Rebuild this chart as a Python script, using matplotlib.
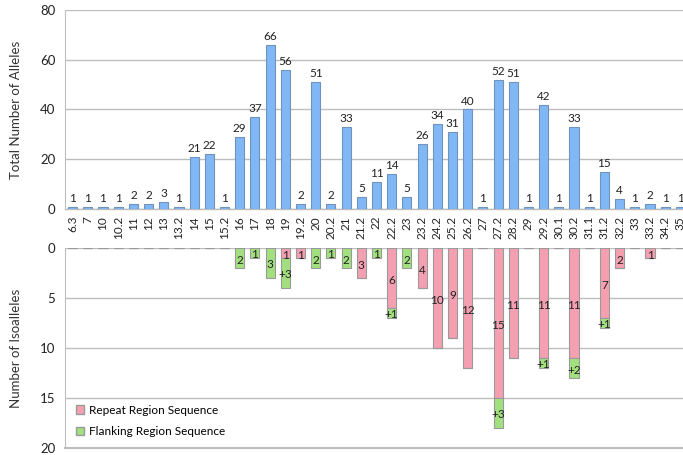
import matplotlib
matplotlib.use("Agg")
import matplotlib.pyplot as plt
from matplotlib.patches import Patch
import numpy as np

plt.rcParams['font.family'] = ['Lato', 'DejaVu Sans']

alleles = ["6.3", "7", "10", "10.2", "11", "12", "13", "13.2", "14", "15", "15.2",
           "16", "17", "18", "19", "19.2", "20", "20.2", "21", "21.2", "22", "22.2",
           "23", "23.2", "24.2", "25.2", "26.2", "27", "27.2", "28.2", "29", "29.2",
           "30.1", "30.2", "31.1", "31.2", "32.2", "33", "33.2", "34.2", "35"]
totals = [1, 1, 1, 1, 2, 2, 3, 1, 21, 22, 1,
          29, 37, 66, 56, 2, 51, 2, 33, 5, 11, 14,
          5, 26, 34, 31, 40, 1, 52, 51, 1, 42,
          1, 33, 1, 15, 4, 1, 2, 1, 1]
repeat_iso = [0, 0, 0, 0, 0, 0, 0, 0, 0, 0, 0,
              0, 0, 0, 1, 1, 0, 0, 0, 3, 0, 6,
              0, 4, 10, 9, 12, 0, 15, 11, 0, 11,
              0, 11, 0, 7, 2, 0, 1, 0, 0]
flank_iso = [0, 0, 0, 0, 0, 0, 0, 0, 0, 0, 0,
             2, 1, 3, 3, 0, 2, 1, 2, 0, 1, 1,
             2, 0, 0, 0, 0, 0, 3, 0, 0, 1,
             0, 2, 0, 1, 0, 0, 0, 0, 0]

blue = "#80b8f6"
blue_edge = "#6f93bd"
pink = "#f4a0b1"
green = "#a2e07f"
iso_edge = "#9a9a9a"
grid_c = "#bdbdbd"
text_c = "#222222"

x = np.arange(len(alleles))
w = 0.6

fig = plt.figure(figsize=(6.83, 4.55), dpi=100)
W, H = 683, 455
left, right = 65, 688
ax1 = fig.add_axes([left / W, 1 - 209 / H, (right - left) / W, (209 - 10) / H])
ax2 = fig.add_axes([left / W, 1 - 448 / H, (right - left) / W, (448 - 248) / H])

# Upper panel: total alleles per length
ax1.bar(x, totals, width=w, color=blue, edgecolor=blue_edge, linewidth=0.8, zorder=3)
for xi, v in zip(x, totals):
    ax1.text(xi, v + 1.2, str(v), ha="center", va="bottom", fontsize=8.5, color=text_c)
ax1.set_ylim(0, 80)
ax1.set_yticks([0, 20, 40, 60, 80])
ax1.set_xlim(-0.5, len(alleles) - 0.5)
ax1.set_xticks(x)
ax1.set_xticklabels(alleles, rotation=90, fontsize=8.5, color=text_c)
ax1.tick_params(axis="x", length=0, pad=5)
ax1.tick_params(axis="y", length=0, pad=7, labelsize=9.5, labelcolor=text_c)
ax1.yaxis.grid(True, color=grid_c, linewidth=1, zorder=0)
for s in ["top", "right"]:
    ax1.spines[s].set_visible(False)
ax1.spines["left"].set_color(grid_c)
ax1.spines["bottom"].set_color(grid_c)
ax1.spines["bottom"].set_linewidth(1)
ax1.set_ylabel("Total Number of Alleles", fontsize=9.5, color="#333333", labelpad=13)

# Lower panel: isoalleles, stacked repeat + flanking
ax2.bar(x, repeat_iso, width=w, color=pink, edgecolor=iso_edge, linewidth=0.8, zorder=3)
ax2.bar(x, flank_iso, width=w, bottom=repeat_iso, color=green, edgecolor=iso_edge,
        linewidth=0.8, zorder=3)
for xi, r, f in zip(x, repeat_iso, flank_iso):
    if r > 0:
        ax2.text(xi, r / 2 + 0.25, str(r), ha="center", va="center", fontsize=8.5, color=text_c, zorder=4)
    if f > 0:
        label = f"+{f}" if r > 0 else str(f)
        ax2.text(xi, r + f / 2 + 0.2, label, ha="center", va="center", fontsize=8.5, color=text_c, zorder=4)
ax2.set_ylim(20, 0)
ax2.set_yticks([0, 5, 10, 15, 20])
ax2.set_xlim(-0.5, len(alleles) - 0.5)
ax2.set_xticks([])
ax2.tick_params(axis="y", length=0, pad=7, labelsize=9.5, labelcolor=text_c)
ax2.yaxis.grid(True, color=grid_c, linewidth=1, zorder=0)
for s in ["right", "top"]:
    ax2.spines[s].set_visible(False)
ax2.spines["left"].set_color(grid_c)
ax2.spines["bottom"].set_color(grid_c)
ax2.spines["bottom"].set_linewidth(1.5)
ax2.set_ylabel("Number of Isoalleles", fontsize=9.5, color="#333333", labelpad=13)

handles = [Patch(facecolor=pink, edgecolor=iso_edge, label="Repeat Region Sequence"),
           Patch(facecolor=green, edgecolor=iso_edge, label="Flanking Region Sequence")]
ax2.legend(handles=handles, loc="lower left", bbox_to_anchor=(0.0, 0.0), frameon=False,
           fontsize=8.5, handlelength=0.7, handleheight=0.7, handletextpad=0.4,
           labelspacing=0.9, borderaxespad=0.5)

fig.savefig("out.png", dpi=100)
